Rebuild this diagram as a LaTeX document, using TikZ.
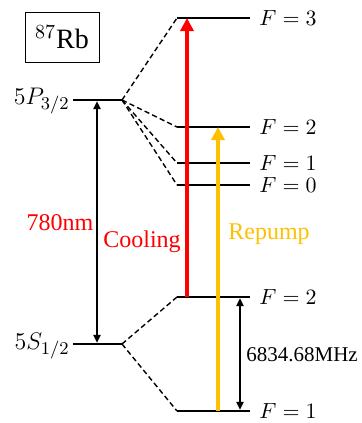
\documentclass[tikz,border=0pt]{standalone}
\usepackage{fontspec}
\setmainfont{Liberation Serif}
\usetikzlibrary{arrows.meta,positioning}
\definecolor{rbred}{RGB}{255,0,0}
\definecolor{rbgold}{RGB}{255,192,0}
\tikzset{
  rbLevel/.style={line width=1.3pt, draw=black},
  rbSplit/.style={line width=0.7pt, dash pattern=on 2.6pt off 1.6pt},
  rbLabel/.style={font=\fontsize{11}{13}\selectfont, inner sep=0pt},
  rbBeam/.style={-{Triangle[length=6.5pt,width=6.5pt]}, line width=2.4pt},
  rbGap/.style={{Triangle[length=4pt,width=3.6pt]}-{Triangle[length=4pt,width=3.6pt]},
                line width=0.9pt},
  rbText/.style={font=\fontsize{12}{14}\selectfont, inner sep=0pt}
}

\begin{document}
\begin{tikzpicture}[x=0.5pt,y=-0.5pt]
  \useasboundingbox (0,0) rectangle (361,423);

  % isotope box
  \node[draw, line width=0.5pt, minimum width=37pt, minimum height=25pt,
        inner sep=0pt, font=\fontsize{14}{16}\selectfont] (iso) at (62,37) {$^{87}$Rb};

  % fine structure levels
  \coordinate (Pl) at (73,100);  \coordinate (Pr) at (122,100);
  \coordinate (Sl) at (73,344);  \coordinate (Sr) at (122,344);
  \draw[rbLevel] (Pl) -- (Pr);
  \draw[rbLevel] (Sl) -- (Sr);
  \node[rbLabel, font=\fontsize{13}{15}\selectfont, anchor=east] (Plab) at (70,101) {$5P_{3/2}$};
  \node[rbLabel, font=\fontsize{13}{15}\selectfont, anchor=east] (Slab) at (70,346) {$5S_{1/2}$};

  % hyperfine levels
  \foreach \name/\y/\f in {eA/18/3, eB/127/2, eC/163/1, eD/185/0, gB/297/2, gA/411/1} {
    \coordinate (\name l) at (177,\y);
    \coordinate (\name r) at (250,\y);
    \draw[rbLevel] (\name l) -- (\name r);
    \node[rbLabel, anchor=west] (\name lab) at (259,\y) {$F=\f$};
  }

  % splitting
  \foreach \name in {eA, eB, eC, eD} \draw[rbSplit] (Pr) -- (\name l);
  \foreach \name in {gB, gA} \draw[rbSplit] (Sr) -- (\name l);

  % D2 line
  \coordinate (Pmid) at (97,100);
  \coordinate (Smid) at (97,344);
  \draw[rbGap] ([yshift=-0.6pt]Pmid) -- ([yshift=0.6pt]Smid);
  \node[rbText, text=rbred] (wl) at (60,223) {780nm};

  % lasers
  \coordinate (coolA) at (187,297);
  \coordinate (coolB) at (187,18);
  \coordinate (repA) at (218,411);
  \coordinate (repB) at (218,127);
  \draw[rbBeam, draw=rbred, fill=rbred] (coolA) -- (coolB);
  \draw[rbBeam, draw=rbgold, fill=rbgold, line width=2pt] (repA) -- (repB);
  \node[rbText, text=rbred] (cool) at (142,242) {Cooling};
  \node[rbText, text=rbgold] (rep) at (269,234) {Repump};

  % ground splitting
  \coordinate (hfA) at (240,297);
  \coordinate (hfB) at (240,411);
  \draw[rbGap] ([yshift=-0.6pt]hfA) -- ([yshift=0.6pt]hfB);
  \node[rbText, font=\fontsize{10.5}{12}\selectfont, anchor=west] (hf) at (246,355) {6834.68MHz};
\end{tikzpicture}
\end{document}
